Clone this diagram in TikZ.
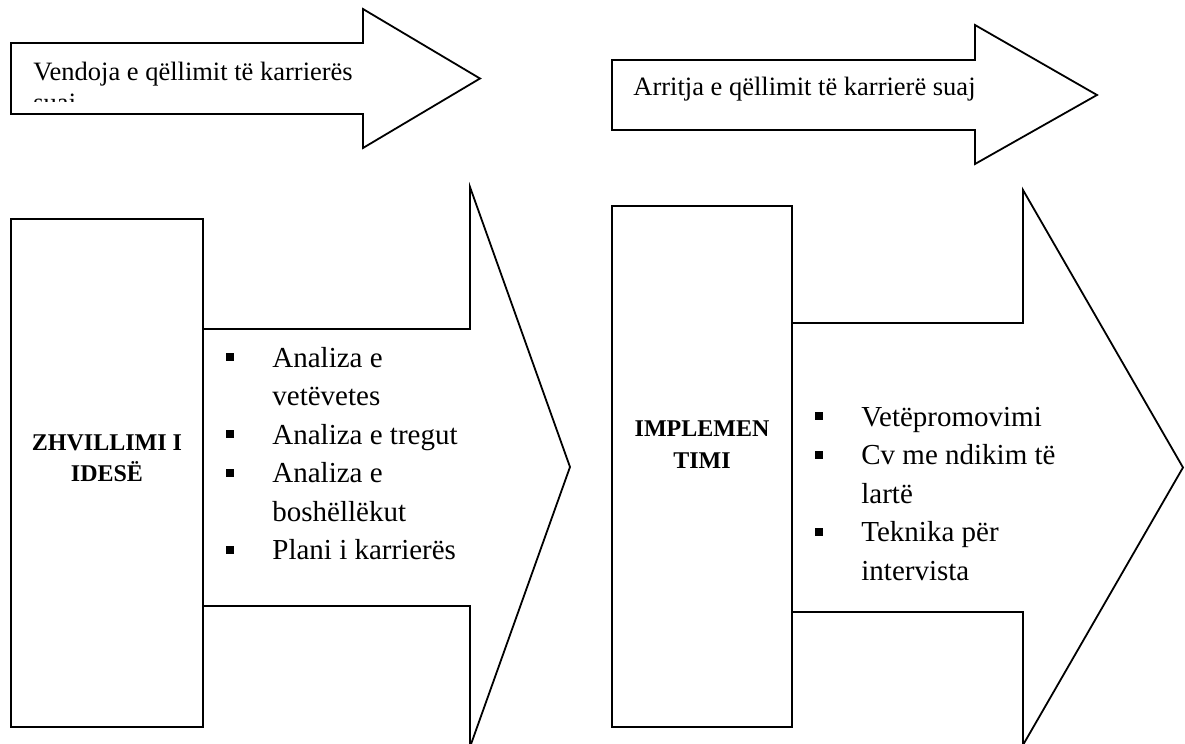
\documentclass[tikz,border=0pt]{standalone}
\usepackage{fontspec}
\setmainfont{Liberation Serif}
\begin{document}
\begin{tikzpicture}[x=0.5pt,y=0.5pt,yscale=-1,xscale=1,
  outline/.style={draw=black, line width=0.9pt, fill=white, line join=miter},
  goaltext/.style={anchor=base west, inner sep=0pt, font=\fontsize{13.25}{15}\selectfont},
  itemtext/.style={anchor=base west, inner sep=0pt, font=\fontsize{14.5}{19.25}\selectfont},
  phasetext/.style={anchor=base, inner sep=0pt, font=\fontsize{12}{15}\selectfont\bfseries},
  bulletsq/.style={fill=black, inner sep=0pt, minimum size=4pt}]

\useasboundingbox (0,0) rectangle (1185,744);

% top arrows
\draw [outline] (11,43) -- (363,43) -- (363,9) -- (480,78.5) -- (363,148) -- (363,114) -- (11,114) -- cycle;
\begin{scope}
  \clip (11,43) rectangle (363,101);
  \node [goaltext] (goalA) at (33,80) {Vendoja e qëllimit të karrierës};
  \node [goaltext] (goalAb) at (33,111) {suaj};
\end{scope}

\draw [outline] (612,60) -- (975,60) -- (975,25) -- (1097,95) -- (975,164) -- (975,130) -- (612,130) -- cycle;
\node [goaltext] (goalB) at (633,95) {Arritja e qëllimit të karrierë suaj};

% left phase
\draw [outline] (203,329) -- (470,329) -- (470,187) -- (570,467) -- (470,747) -- (470,606) -- (203,606);
\draw [outline] (11,219) rectangle (203,727);
\node [phasetext] (ideaA) at (107,450) {ZHVILLIMI I};
\node [phasetext] (ideaB) at (107,481) {IDESË};

\node [bulletsq] (bA1) at (230,357) {};
\node [itemtext] (itA1) at (272,367) {Analiza e};
\node [itemtext] (itA1b) at (272,405.5) {vetëvetes};
\node [bulletsq] (bA2) at (230,434) {};
\node [itemtext] (itA2) at (272,444) {Analiza e tregut};
\node [bulletsq] (bA3) at (230,472.5) {};
\node [itemtext] (itA3) at (272,482.5) {Analiza e};
\node [itemtext] (itA3b) at (272,521) {boshëllëkut};
\node [bulletsq] (bA4) at (230,549.5) {};
\node [itemtext] (itA4) at (272,559.5) {Plani i karrierës};

% right phase
\draw [outline] (792,323) -- (1023,323) -- (1023,190) -- (1183,467.5) -- (1023,745) -- (1023,612) -- (792,612);
\draw [outline] (612,206) rectangle (792,727);
\node [phasetext] (implA) at (702,436) {IMPLEMEN};
\node [phasetext] (implB) at (702,468) {TIMI};

\node [bulletsq] (bB1) at (819,416) {};
\node [itemtext] (itB1) at (861,426) {Vetëpromovimi};
\node [bulletsq] (bB2) at (819,454.5) {};
\node [itemtext] (itB2) at (861,464.5) {Cv me ndikim të};
\node [itemtext] (itB2b) at (861,503) {lartë};
\node [bulletsq] (bB3) at (819,531.5) {};
\node [itemtext] (itB3) at (861,541.5) {Teknika për};
\node [itemtext] (itB3b) at (861,580) {intervista};
\end{tikzpicture}
\end{document}
